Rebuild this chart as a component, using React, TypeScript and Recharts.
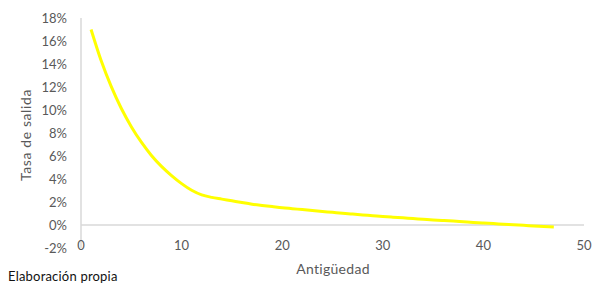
import { LineChart, Line, XAxis, YAxis, ReferenceLine } from "recharts";

// antigüedad (años) y tasa de salida (%)
const years = [
  1, 2, 3, 4, 5, 6, 7, 8, 9, 10, 11, 12, 13, 14, 15, 16, 17, 18, 19, 20, 21, 22, 23, 24,
  25, 26, 27, 28, 29, 30, 31, 32, 33, 34, 35, 36, 37, 38, 39, 40, 41, 42, 43, 44, 45, 46, 47,
];
const exitRate = [
  17.0, 14.3, 12.05, 10.15, 8.55, 7.2, 6.05, 5.1, 4.3, 3.6, 3.02, 2.62, 2.4, 2.25, 2.1, 1.95,
  1.81, 1.7, 1.6, 1.5, 1.42, 1.34, 1.26, 1.18, 1.1, 1.02, 0.95, 0.88, 0.81, 0.74, 0.68, 0.62,
  0.56, 0.5, 0.44, 0.39, 0.34, 0.28, 0.22, 0.17, 0.12, 0.07, 0.02, -0.03, -0.08, -0.13, -0.18,
];
const xTicks = [0, 10, 20, 30, 40, 50];
const yTicks = [-2, 0, 2, 4, 6, 8, 10, 12, 14, 16, 18];

const data = years.map((x, i) => ({ x, rate: exitRate[i] }));

const FONT = "Lato, 'Open Sans', sans-serif";
const GREY = "#595959";
const LINE = "#d9d9d9";

function XTick(props: any) {
  const { x, y, payload } = props;
  return (
    <text x={x} y={y - 3} textAnchor="middle" dominantBaseline="central" fill={GREY} fontSize={13} fontFamily={FONT}>
      {payload.value}
    </text>
  );
}

export default function App() {
  return (
    <div style={{ position: "absolute", left: 0, top: 0, width: 595, height: 284, background: "#fff", fontFamily: FONT, overflow: "hidden" }}>
      <LineChart width={595} height={284} data={data} margin={{ top: 18, right: 11, bottom: 16, left: 0 }}>
        <XAxis
          dataKey="x"
          type="number"
          domain={[0, 50]}
          ticks={xTicks}
          axisLine={false}
          tickLine={false}
          tickSize={0}
          tickMargin={0}
          height={20}
          tick={XTick}
        />
        <YAxis
          type="number"
          domain={[-2, 18]}
          ticks={yTicks}
          width={81}
          tickFormatter={(v) => `${v}%`}
          axisLine={{ stroke: LINE, strokeWidth: 1.5 }}
          tickLine={false}
          tickSize={0}
          tickMargin={14}
          tick={{ fill: GREY, fontSize: 13, fontFamily: FONT }}
        />
        <ReferenceLine y={0} stroke={LINE} strokeWidth={1.5} />
        <Line type="monotone" dataKey="rate" stroke="#ffff00" strokeWidth={3} dot={false} isAnimationActive={false} />
      </LineChart>
      <div
        style={{
          position: "absolute",
          left: 25,
          top: 135,
          transform: "translate(-50%, -50%) rotate(-90deg)",
          whiteSpace: "nowrap",
          fontSize: 14,
          color: GREY,
          letterSpacing: 0.6,
        }}
      >
        Tasa de salida
      </div>
      <div
        style={{
          position: "absolute",
          left: 333,
          top: 268,
          transform: "translate(-50%, -50%)",
          whiteSpace: "nowrap",
          fontSize: 14,
          color: GREY,
          letterSpacing: 0.3,
        }}
      >
        Antigüedad
      </div>
      <div
        style={{
          position: "absolute",
          left: 8,
          top: 270,
          whiteSpace: "nowrap",
          fontSize: 13,
          lineHeight: "13px",
          color: "#111",
          letterSpacing: 0.2,
        }}
      >
        Elaboración propia
      </div>
    </div>
  );
}
